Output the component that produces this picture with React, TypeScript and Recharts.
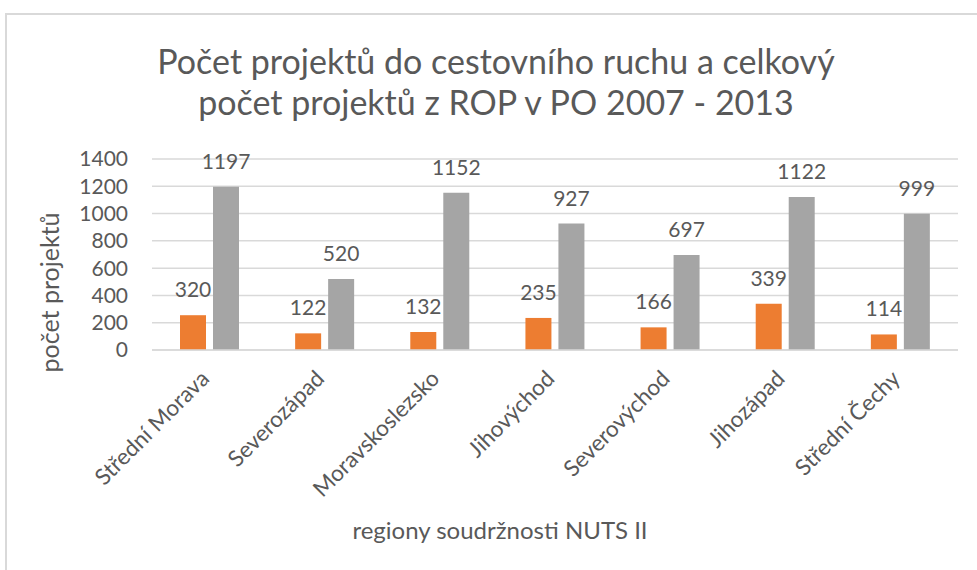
import React from "react";
import { BarChart, Bar, XAxis, YAxis, CartesianGrid, LabelList } from "recharts";

const regiony = [
  "Střední Morava",
  "Severozápad",
  "Moravskoslezsko",
  "Jihovýchod",
  "Severovýchod",
  "Jihozápad",
  "Střední Čechy",
];
// bar heights as drawn (first orange bar is drawn lower than its label says)
const cestovniRuch = [255, 122, 132, 235, 166, 339, 114];
const cestovniRuchPopisky = [320, 122, 132, 235, 166, 339, 114];
const celkem = [1197, 520, 1152, 927, 697, 1122, 999];
const yTicks = [0, 200, 400, 600, 800, 1000, 1200, 1400];

const data = regiony.map((r, i) => ({
  region: r,
  cestovni: cestovniRuch[i],
  cestovniLabel: cestovniRuchPopisky[i],
  celkem: celkem[i],
}));

const FONT = "Lato, 'Open Sans', sans-serif";
const TEXT = "#595959";

function RegionTick({ x, y, payload }: any) {
  const ax = x + 1;
  const ay = y + 22;
  return (
    <text
      x={ax}
      y={ay}
      textAnchor="end"
      transform={`rotate(-45, ${ax}, ${ay})`}
      fill={TEXT}
      fontSize={22.5}
      fontFamily={FONT}
    >
      {payload.value}
    </text>
  );
}

export default function App() {
  return (
    <div style={{ position: "absolute", left: 0, top: 0, width: 977, height: 570, background: "#fff" }}>
      <div
        style={{
          position: "absolute",
          left: 5,
          top: 13,
          right: 0,
          bottom: 0,
          borderTop: "2px solid #d9d9d9",
          borderLeft: "2px solid #d9d9d9",
        }}
      />
      <div
        style={{
          position: "absolute",
          left: 0,
          width: 992,
          top: 40,
          textAlign: "center",
          fontFamily: FONT,
          fontSize: 34,
          lineHeight: "41px",
          color: TEXT,
        }}
      >
        Počet projektů do cestovního ruchu a celkový
        <br />
        počet projektů z ROP v PO 2007 - 2013
      </div>
      <BarChart
        width={977}
        height={570}
        data={data}
        margin={{ top: 159, right: 19, left: 12, bottom: 20 }}
        barGap={7}
        barSize={26}
        style={{ position: "absolute", left: 0, top: 0 }}
      >
        <CartesianGrid vertical={false} stroke="#d9d9d9" strokeWidth={1.5} />
        <XAxis
          dataKey="region"
          interval={0}
          height={200}
          tickLine={false}
          axisLine={{ stroke: "#d9d9d9", strokeWidth: 1.5 }}
          tick={<RegionTick />}
          label={({ viewBox }: any) => (
            <text
              x={viewBox.x + viewBox.width / 2 - 55}
              y={viewBox.y + 189}
              textAnchor="middle"
              fill={TEXT}
              fontSize={24}
              fontFamily={FONT}
            >
              regiony soudržnosti NUTS II
            </text>
          )}
        />
        <YAxis
          width={140}
          domain={[0, 1400]}
          ticks={yTicks}
          interval={0}
          axisLine={false}
          tickLine={false}
          tickSize={0}
          tickMargin={24}
          tick={{ fill: TEXT, fontSize: 21, fontFamily: FONT }}
          label={({ viewBox }: any) => {
            const cx = viewBox.x + 37;
            const cy = viewBox.y + viewBox.height / 2 + 38;
            return (
              <text
                x={cx}
                y={cy}
                textAnchor="middle"
                dominantBaseline="central"
                transform={`rotate(-90, ${cx}, ${cy})`}
                fill={TEXT}
                fontSize={25}
                fontFamily={FONT}
              >
                počet projektů
              </text>
            );
          }}
        />
        <Bar dataKey="cestovni" fill="#ED7D31" isAnimationActive={false}>
          <LabelList dataKey="cestovniLabel" position="top" offset={18} fill={TEXT} fontSize={21} fontFamily={FONT} />
        </Bar>
        <Bar dataKey="celkem" fill="#A5A5A5" isAnimationActive={false}>
          <LabelList dataKey="celkem" position="top" offset={18} fill={TEXT} fontSize={21} fontFamily={FONT} />
        </Bar>
      </BarChart>
    </div>
  );
}
